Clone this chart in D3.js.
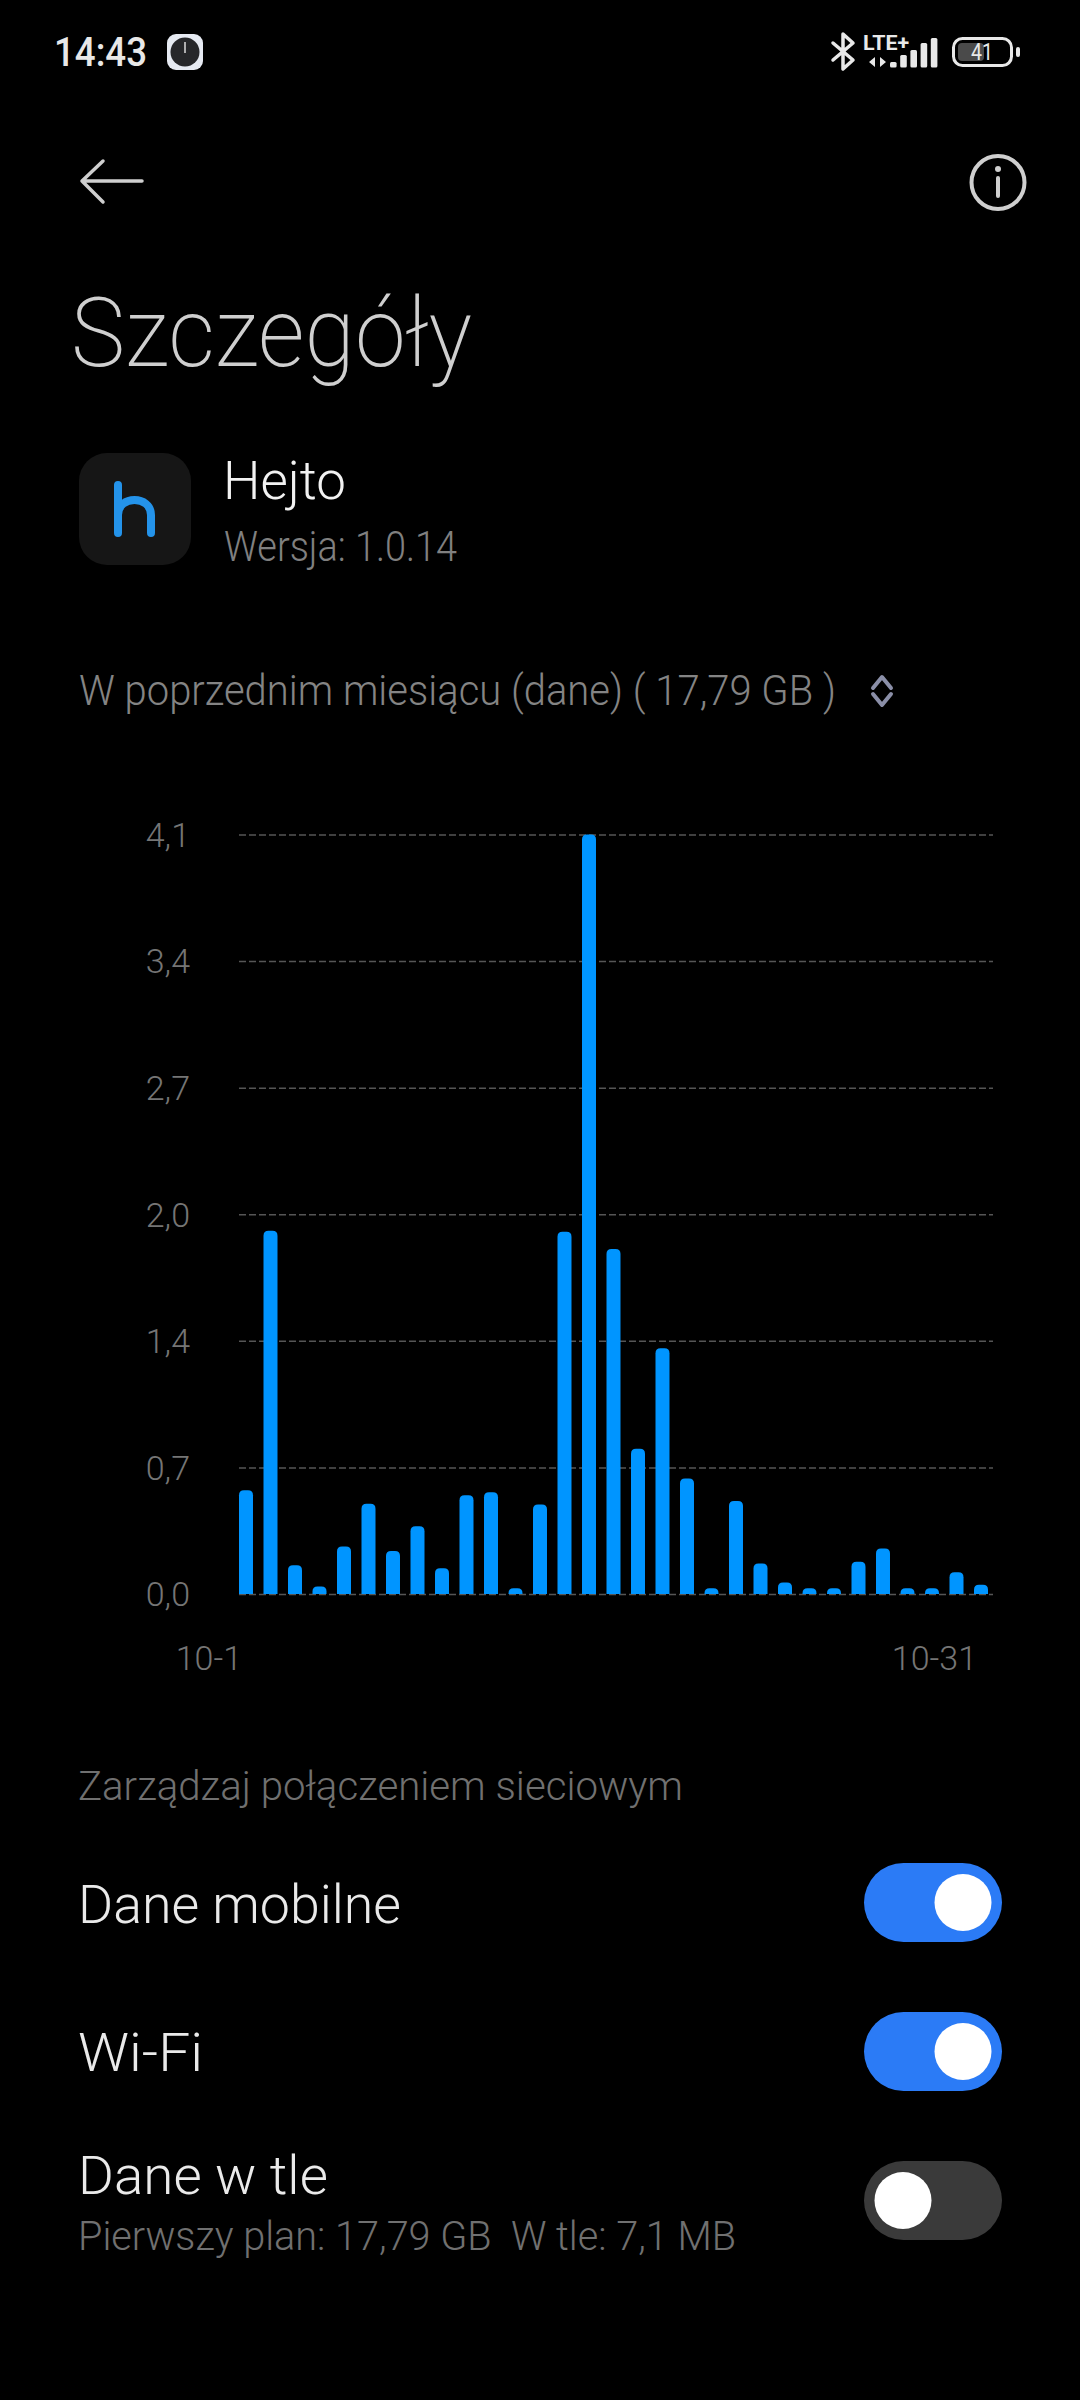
<!DOCTYPE html>
<html>
<head>
<meta charset="utf-8">
<script src="https://cdnjs.cloudflare.com/ajax/libs/d3/7.8.5/d3.min.js"></script>
<style>
  html, body { margin: 0; background: #000; }
  svg { display: block; }
  text { font-family: Roboto, sans-serif; }
</style>
</head>
<body>
<svg id="chart-area"></svg>
<script>
const days = ["10-1","10-2","10-3","10-4","10-5","10-6","10-7","10-8","10-9","10-10","10-11","10-12","10-13","10-14","10-15","10-16",
              "10-17","10-18","10-19","10-20","10-21","10-22","10-23","10-24","10-25","10-26","10-27","10-28","10-29","10-30","10-31"];
const usage = [0.56,1.96,0.155,0.04,0.257,0.487,0.232,0.366,0.139,0.533,0.549,0.031,0.483,1.955,4.1,1.862,
               0.784,1.326,0.623,0.031,0.502,0.164,0.062,0.031,0.031,0.174,0.245,0.031,0.031,0.118,0.05];
const yTicks = [0,0.683,1.367,2.05,2.733,3.417,4.1];
const yTickLabels = ["0,0","0,7","1,4","2,0","2,7","3,4","4,1"];
const xTickLabels = ["10-1","10-31"];

const svg = d3.select("#chart-area").attr("width", 1080).attr("height", 2400);

function label(x, y, str, size, color, weight, width) {
  const t = svg.append("text")
     .attr("x", x).attr("y", y)
     .attr("font-size", size)
     .attr("font-weight", weight)
     .attr("fill", color)
     .text(str);
  if (width) t.attr("textLength", width).attr("lengthAdjust", "spacingAndGlyphs");
  return t;
}

// status bar
label(54, 66, "14:43", 40, "#e8e8e8", 500, 93);
svg.append("rect").attr("x", 167).attr("y", 34).attr("width", 36).attr("height", 36).attr("rx", 9).attr("fill", "#e6eaf2");
svg.append("circle").attr("cx", 185).attr("cy", 52).attr("r", 14.5).attr("fill", "#26272a");
svg.append("line").attr("x1", 185).attr("x2", 185).attr("y1", 42).attr("y2", 53).attr("stroke", "#ddd").attr("stroke-width", 1.5);

svg.append("path").attr("d", "M833,43 L853,60 L843,69 L843,34 L853,43 L833,60")
   .attr("fill", "none").attr("stroke", "#e8e8e8").attr("stroke-width", 3.5).attr("stroke-linejoin", "round").attr("stroke-linecap", "round");
label(863, 50, "LTE+", 21, "#e8e8e8", 700, 46);
svg.append("path").attr("d", "M875,57 V67 L869,62 Z M880,57 V67 L886,62 Z").attr("fill", "#e8e8e8");
const signalTops = [62, 55, 50, 43, 38];
signalTops.forEach((top, i) => {
  svg.append("rect").attr("x", 890 + i * 10.2).attr("y", top).attr("width", 6.6).attr("height", 67.5 - top).attr("rx", 1.5).attr("fill", "#e8e8e8");
});
svg.append("rect").attr("x", 953.5).attr("y", 38.5).attr("width", 58).attr("height", 27).attr("rx", 9).attr("fill", "none").attr("stroke", "#e8e8e8").attr("stroke-width", 3);
svg.append("rect").attr("x", 958).attr("y", 43).attr("width", 26).attr("height", 18).attr("rx", 4).attr("fill", "#4a4a4a");
label(971, 60, "41", 24, "#e8e8e8", 400, 22);
svg.append("rect").attr("x", 1016).attr("y", 47).attr("width", 4).attr("height", 10).attr("rx", 2).attr("fill", "#e8e8e8");

// action bar
svg.append("path").attr("d", "M142,181 H82 M103,161 L82,181 L103,202")
   .attr("fill", "none").attr("stroke", "#cfcfcf").attr("stroke-width", 3.5).attr("stroke-linecap", "round").attr("stroke-linejoin", "round");
svg.append("circle").attr("cx", 998).attr("cy", 182.5).attr("r", 26.5).attr("fill", "none").attr("stroke", "#cfcfcf").attr("stroke-width", 4);
svg.append("circle").attr("cx", 998).attr("cy", 169).attr("r", 3).attr("fill", "#cfcfcf");
svg.append("line").attr("x1", 998).attr("x2", 998).attr("y1", 178).attr("y2", 196).attr("stroke", "#cfcfcf").attr("stroke-width", 4).attr("stroke-linecap", "round");

label(71, 366, "Szczegóły", 97, "#cfcfcf", 200, 401);

// app row
svg.append("rect").attr("x", 79).attr("y", 453).attr("width", 112).attr("height", 112).attr("rx", 28).attr("fill", "#161616");
svg.append("path").attr("d", "M118,485 V533 M118,515 C118,495 151,495 151,515 V533")
   .attr("fill", "none").attr("stroke", "#2493ea").attr("stroke-width", 8).attr("stroke-linecap", "round");
label(223, 499, "Hejto", 54, "#f2f2f2", 300, 123);
label(224, 561, "Wersja: 1.0.14", 42, "#808080", 300, 233);

label(79, 705, "W poprzednim miesiącu (dane) ( 17,79 GB )", 42, "#848484", 300, 757);
svg.append("path").attr("d", "M873,688 L882,677 L891,688 M873,694 L882,705 L891,694")
   .attr("fill", "none").attr("stroke", "#8b8fa8").attr("stroke-width", 4).attr("stroke-linecap", "round").attr("stroke-linejoin", "round");

// chart
const x = d3.scaleBand().domain(days).range([239, 988]).paddingInner(0.4286).paddingOuter(0);
const y = d3.scaleLinear().domain([0, 4.1]).range([1594, 834.4]);

const yAxis = d3.axisLeft(y)
  .tickValues(yTicks)
  .tickFormat((d, i) => yTickLabels[i])
  .tickSize(-754)
  .tickPadding(49);

const yG = svg.append("g")
   .attr("id", "y-axis")
   .attr("transform", "translate(239, 0)")
   .call(yAxis);
yG.select(".domain").remove();
yG.selectAll("line").attr("stroke", "#555").attr("stroke-width", 1.5).attr("stroke-dasharray", "7 3");
yG.selectAll("text").attr("font-size", 34).attr("fill", "#757575").attr("font-family", "Roboto").attr("font-weight", 300).attr("dy", "0.35em");

const xAxis = d3.axisBottom(x).tickValues(xTickLabels).tickSize(0);
const xG = svg.append("g")
   .attr("id", "x-axis")
   .attr("transform", "translate(0, 1594)")
   .call(xAxis);
xG.select(".domain").remove();
xG.selectAll("text").attr("font-size", 34).attr("fill", "#757575").attr("font-family", "Roboto").attr("font-weight", 300)
   .attr("y", 76).attr("dy", 0)
   .attr("text-anchor", "end")
   .attr("x", (d) => x.bandwidth() / 2 * -1 + 3);

function barPath(d, i) {
  const left = x(days[i]), w = x.bandwidth(), top = y(d), bottom = y(0);
  const r = Math.min(5, bottom - top);
  const p = d3.path();
  p.moveTo(left, bottom);
  p.lineTo(left, top + r);
  p.quadraticCurveTo(left, top, left + r, top);
  p.lineTo(left + w - r, top);
  p.quadraticCurveTo(left + w, top, left + w, top + r);
  p.lineTo(left + w, bottom);
  p.closePath();
  return p.toString();
}

svg.selectAll(".bar")
   .data(usage)
   .enter()
   .append("path")
   .attr("class", "bar")
   .attr("d", barPath)
   .attr("fill", "#0095ff");

// network settings
label(78, 1800, "Zarządzaj połączeniem sieciowym", 40, "#707070", 300, 605);
label(78, 1923, "Dane mobilne", 53, "#eaeaea", 300, 323);
label(78, 2071, "Wi-Fi", 53, "#eaeaea", 300, 125);
label(78, 2194, "Dane w tle", 53, "#eaeaea", 300, 250);
label(78, 2250, "Pierwszy plan: 17,79 GB  W tle: 7,1 MB", 40, "#707070", 300, 658).style("white-space", "pre");

const toggles = [
  { top: 1863, on: true },
  { top: 2012, on: true },
  { top: 2161, on: false }
];
toggles.forEach(t => {
  svg.append("rect").attr("x", 864).attr("y", t.top).attr("width", 138).attr("height", 79).attr("rx", 39.5)
     .attr("fill", t.on ? "#2b7bf6" : "#3a3a3a");
  svg.append("circle").attr("cx", t.on ? 963 : 903).attr("cy", t.top + 39.5).attr("r", 28.5).attr("fill", "#fff");
});
</script>
</body>
</html>
